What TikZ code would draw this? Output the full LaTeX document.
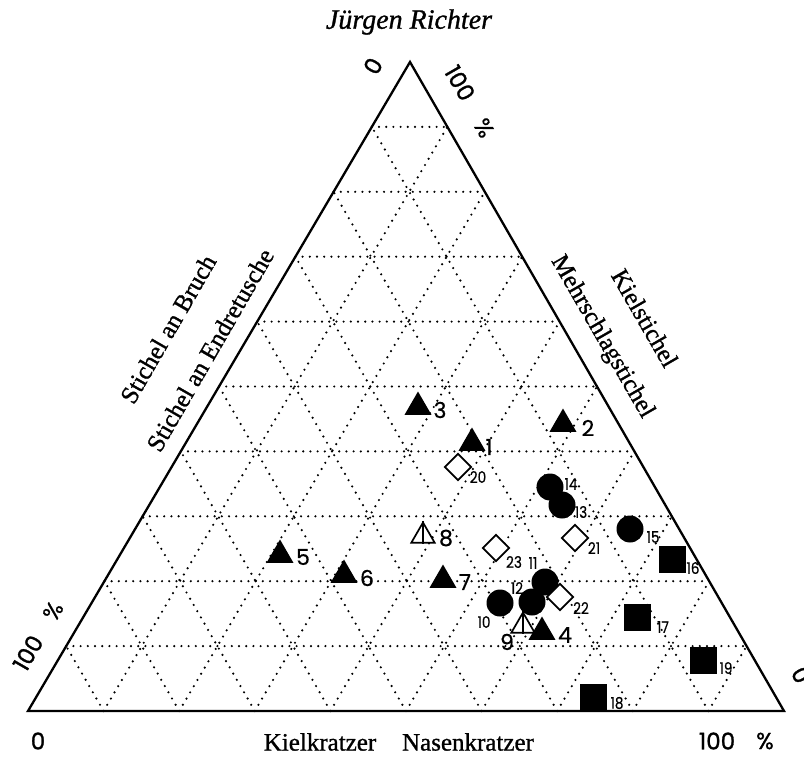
\documentclass[tikz,border=0pt]{standalone}
\usepackage{fontspec}
\setmainfont{Liberation Serif}[FakeBold=1]
\newfontfamily\numfont{Poppins}[FakeBold=1.2]
\newfontfamily\labfont{Poppins}[FakeBold=0.6]
\newfontfamily\smfont{Poppins}[FakeBold=0.4, FakeStretch=0.85]
\usetikzlibrary{calc,shapes.geometric}
\begin{document}
\begin{tikzpicture}[x=1pt,y=-1pt,
  gridline/.style={line width=2.4pt, dash pattern=on 0pt off 7.2pt, line cap=round},
  frame/.style={line width=2.3pt, line join=miter},
  ftri/.style={regular polygon, regular polygon sides=3, fill=black, minimum size=31pt, inner sep=0pt},
  otri/.style={regular polygon, regular polygon sides=3, draw=black, line width=1.7pt, fill=white, minimum size=27pt, inner sep=0pt},
  fcirc/.style={circle, fill=black, minimum size=27pt, inner sep=0pt},
  fsq/.style={rectangle, fill=black, minimum size=27pt, inner sep=0pt},
  odia/.style={diamond, draw=black, line width=1.9pt, fill=white, minimum size=27pt, inner sep=0pt},
  biglab/.style={font=\labfont\fontsize{22}{22}\selectfont, inner sep=0pt},
  smlab/.style={font=\smfont\fontsize{16}{16}\selectfont, inner sep=0pt},
  axnum/.style={font=\numfont\fontsize{23}{23}\selectfont, inner sep=0pt},
  axtext/.style={font=\fontsize{25}{25}\selectfont, inner sep=0pt},
]
\useasboundingbox (0,0) rectangle (804,757);
\coordinate (A) at (410,62);
\coordinate (B) at (28,711);
\coordinate (C) at (784,711);
% grid
\foreach \k in {1,...,9}{
  \draw[gridline] ($(A)!\k/10!(B)$) -- ($(A)!\k/10!(C)$);
  \draw[gridline] ($(B)!\k/10!(C)$) -- ($(A)!\k/10!(C)$);
  \draw[gridline] ($(C)!\k/10!(B)$) -- ($(A)!\k/10!(B)$);
}
\draw[frame] (A) -- (B) -- (C) -- cycle;

% title
\node[font=\itshape\fontsize{28}{28}\selectfont, inner sep=0pt] (title) at (409,22) {Jürgen Richter};

% axis labels
\node[axtext, rotate=60] (lab1) at (168,329) {Stichel an Bruch};
\node[axtext, rotate=60] (lab2) at (210,350) {Stichel an Endretusche};
\node[axtext, rotate=-60] (lab3) at (645,318) {Kielstichel};
\node[axtext, rotate=-60] (lab4) at (602,337) {Mehrschlagstichel};
\node[axtext] (lab5) at (320,742) {Kielkratzer};
\node[axtext] (lab6) at (468,742) {Nasenkratzer};

% axis numbers
\node[axnum, rotate=60] (n0top) at (373,66) {0};
\node[axnum, rotate=-60] (n100top) at (460,83) {100};
\node[axnum, rotate=-60] (pctop) at (484,128) {\%};
\node[axnum, rotate=60] (n100l) at (28,653) {100};
\node[axnum, rotate=60] (pcl) at (53,611) {\%};
\node[axnum] (n0b) at (38,741) {0};
\node[axnum] (n100b) at (717,741) {100};
\node[axnum] (pcb) at (765,741) {\%};
\node[axnum, rotate=-60] (n0r) at (801,675) {0};

% markers: filled triangles
\node[ftri] (m1) at (472,443) {};
\node[ftri] (m2) at (563,424) {};
\node[ftri] (m3) at (418,407) {};
\node[ftri] (m4) at (542,632) {};
\node[ftri] (m5) at (280,555) {};
\node[ftri] (m6) at (344,575) {};
\node[ftri] (m7) at (443,580) {};
% open triangles
\node[otri] (m8) at (423,536) {};
\draw[line width=1.7pt] (m8.corner 1) -- (m8.side 2);
\node[otri] (m9) at (523,626) {};
\draw[line width=1.7pt] (m9.corner 1) -- (m9.side 2);
% circles
\node[fcirc] (m10) at (500,603) {};
\node[fcirc] (m11) at (545,582) {};
\node[fcirc] (m12) at (532,602) {};
\node[fcirc] (m14) at (550,487) {};
\node[fcirc] (m13) at (562,505) {};
\node[fcirc] (m15) at (630,529) {};
% squares
\node[fsq] (m16) at (672,559) {};
\node[fsq] (m17) at (637,617) {};
\node[fsq] (m18) at (593,697) {};
\node[fsq] (m19) at (703,660) {};
% diamonds
\node[odia] (m20) at (458,467) {};
\node[odia] (m21) at (575,538) {};
\node[odia] (m22) at (560,597) {};
\node[odia] (m23) at (496,548) {};

% marker labels
\node[biglab] (t1) at (489,447) {1};
\node[biglab] (t2) at (588,428) {2};
\node[biglab] (t3) at (440,410) {3};
\node[biglab] (t4) at (565,635) {4};
\node[biglab] (t5) at (303,557) {5};
\node[biglab] (t6) at (367,578) {6};
\node[biglab] (t7) at (465,582) {7};
\node[biglab] (t8) at (446,538) {8};
\node[biglab] (t9) at (507,642) {9};
\node[smlab] (t10) at (484,622) {10};
\node[smlab] (t11) at (533,563) {11};
\node[smlab] (t12) at (517,588) {12};
\node[smlab] (t13) at (581,512) {13};
\node[smlab] (t14) at (571,484) {14};
\node[smlab] (t15) at (653,537) {15};
\node[smlab] (t16) at (693,568) {16};
\node[smlab] (t17) at (663,627) {17};
\node[smlab] (t18) at (617,703) {18};
\node[smlab] (t19) at (726,668) {19};
\node[smlab] (t20) at (478,477) {20};
\node[smlab] (t21) at (594,548) {21};
\node[smlab] (t22) at (581,608) {22};
\node[smlab] (t23) at (514,562) {23};
\end{tikzpicture}
\end{document}
